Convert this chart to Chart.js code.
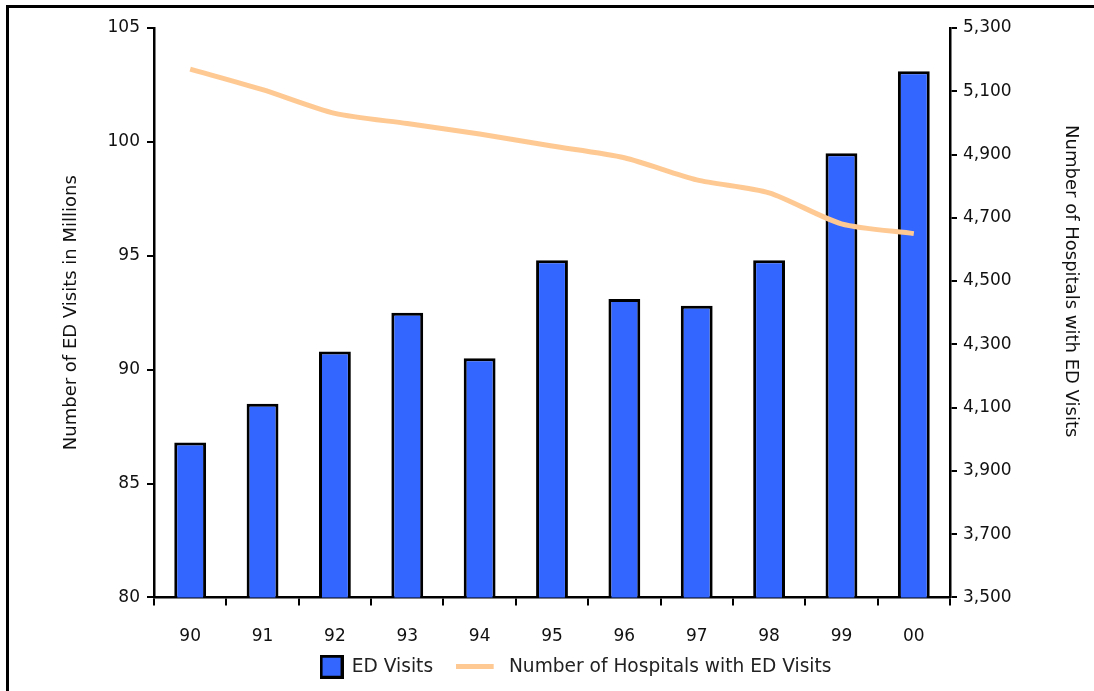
<!DOCTYPE html>
<html>
<head>
<meta charset="utf-8">
<script src="https://cdn.jsdelivr.net/npm/chart.js@4.4.0/dist/chart.umd.min.js"></script>
<style>
  html, body { margin: 0; padding: 0; background: #fff; }
  #wrap { position: relative; width: 1094px; height: 691px; overflow: hidden; }
  #frame { position: absolute; left: 6px; top: 5px; width: 1100px; height: 700px;
           border-top: 3px solid #000; border-left: 3px solid #000; pointer-events: none; }
  canvas { position: absolute; left: 0; top: 0; }
</style>
</head>
<body>
<div id="wrap">
  <canvas id="c" width="1094" height="691"></canvas>
  <div id="frame"></div>
</div>
<script>
const categories = ['90', '91', '92', '93', '94', '95', '96', '97', '98', '99', '00'];
const edVisits = [86.8, 88.5, 90.8, 92.5, 90.5, 94.8, 93.1, 92.8, 94.8, 99.5, 103.1];
const hospitals = [5170, 5105, 5030, 4998, 4965, 4927, 4890, 4820, 4779, 4681, 4650];
const leftTicks = [80, 85, 90, 95, 100, 105];
const rightTicks = [3500, 3700, 3900, 4100, 4300, 4500, 4700, 4900, 5100, 5300];

const FONT = 'DejaVu Sans, Verdana, sans-serif';
const BLUE = '#3366FF';
const PEACH = '#FFC993';

function makeBoxIcon() {
  const c = document.createElement('canvas');
  c.width = 24; c.height = 24;
  const g = c.getContext('2d');
  g.fillStyle = '#000'; g.fillRect(0, 0, 24, 24);
  g.fillStyle = BLUE; g.fillRect(3, 3, 18, 18);
  return c;
}
function makeLineIcon() {
  const c = document.createElement('canvas');
  c.width = 66; c.height = 5;
  const g = c.getContext('2d');
  g.fillStyle = PEACH; g.fillRect(0, 0, 38, 5);
  return c;
}
const boxIcon = makeBoxIcon();
const lineIcon = makeLineIcon();
const PAD = '\u00A0'.repeat(11);
const GAP = '\u00A0'.repeat(5);

new Chart(document.getElementById('c'), {
  data: {
    labels: categories,
    datasets: [
      {
        type: 'bar', label: 'ED Visits', data: edVisits, yAxisID: 'y', order: 1,
        backgroundColor: BLUE, borderColor: '#000', borderWidth: 3,
        barPercentage: 0.44, categoryPercentage: 1.0
      },
      {
        type: 'line', label: 'Number of Hospitals with ED Visits', data: hospitals, yAxisID: 'y1', order: 0,
        borderColor: PEACH, borderWidth: 5, pointRadius: 0, tension: 0.25, fill: false
      }
    ]
  },
  options: {
    responsive: false,
    animation: false,
    layout: { padding: { top: 28, left: 58, right: 0, bottom: 5 } },
    plugins: {
      tooltip: { enabled: false },
      legend: {
        position: 'bottom',
        labels: {
          font: { family: FONT, size: 18.6 },
          color: '#222',
          usePointStyle: true,
          pointStyleWidth: 22,
          boxHeight: 18,
          padding: 15,
          generateLabels: () => [
            { text: 'ED Visits' + GAP, pointStyle: boxIcon, fillStyle: BLUE, strokeStyle: '#000', lineWidth: 0, datasetIndex: 0, fontColor: '#222' },
            { text: 'Number of Hospitals with ED Visits', pointStyle: lineIcon, fillStyle: PEACH, strokeStyle: PEACH, lineWidth: 0, datasetIndex: 1, fontColor: '#222' }
          ]
        }
      }
    },
    scales: {
      x: {
        offset: true,
        grid: { display: true, offset: true, drawOnChartArea: false, drawTicks: true, tickLength: 8, color: '#000', lineWidth: 2 },
        border: { display: true, color: '#000', width: 2.5 },
        ticks: { font: { family: FONT, size: 17 }, color: '#111', padding: 21 },
        afterFit: s => { s.height = 45; }
      },
      y: {
        position: 'left', min: 80, max: 105,
        afterBuildTicks: s => { s.ticks = leftTicks.map(v => ({ value: v })); },
        grid: { display: true, drawOnChartArea: false, drawTicks: true, tickLength: 7, color: '#000', lineWidth: 2 },
        border: { display: true, color: '#000', width: 2.5 },
        ticks: { font: { family: FONT, size: 17 }, color: '#111', padding: 7 },
        title: { display: true, text: 'Number of ED Visits in Millions', font: { family: FONT, size: 18 }, color: '#111', padding: { top: 3, bottom: 0 } },
        afterFit: s => { s.width = 96; }
      },
      y1: {
        position: 'right', min: 3500, max: 5300,
        afterBuildTicks: s => { s.ticks = rightTicks.map(v => ({ value: v })); },
        grid: { display: true, drawOnChartArea: false, drawTicks: true, tickLength: 7, color: '#000', lineWidth: 2 },
        border: { display: true, color: '#000', width: 2.5 },
        ticks: { font: { family: FONT, size: 17 }, color: '#111', padding: 6,
                 callback: v => v.toLocaleString('en-US') },
        title: { display: true, text: 'Number of Hospitals with ED Visits' + PAD, font: { family: FONT, size: 18 }, color: '#111', padding: { top: 13, bottom: 0 } },
        afterFit: s => { s.width = 144; }
      }
    }
  }
});
</script>
</body>
</html>
